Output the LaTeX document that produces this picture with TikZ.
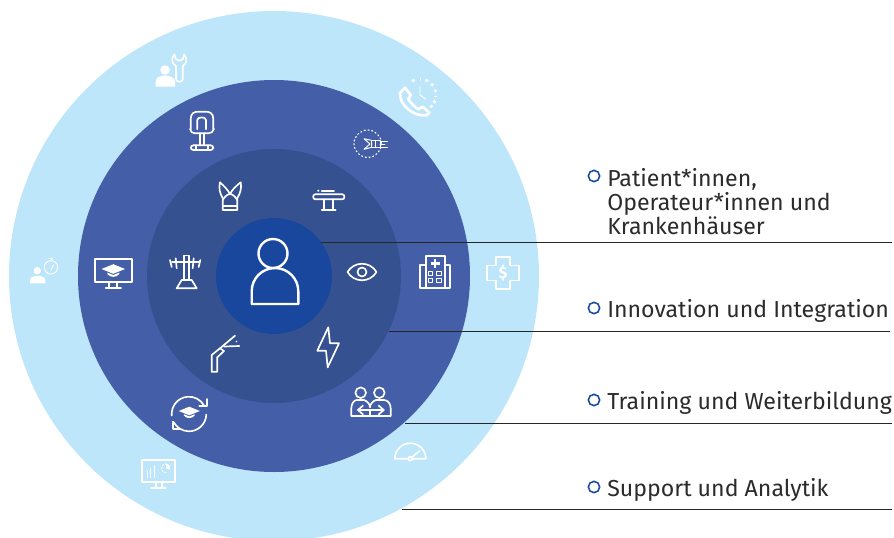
\documentclass[tikz,border=0pt]{standalone}
\usepackage{fontspec}
\setmainfont{Fira Sans}
\usetikzlibrary{positioning, calc}
\usetikzlibrary{arrows.meta}

\definecolor{ringouter}{HTML}{BDE6FA}
\definecolor{ringmiddle}{HTML}{455EA8}
\definecolor{ringinner}{HTML}{355190}
\definecolor{ringcore}{HTML}{19479E}
\definecolor{bulletblue}{HTML}{1E4CA0}
\definecolor{labelgrey}{HTML}{2B2B2B}

\tikzset{
    ring/.style={circle, inner sep=0pt, outer sep=0pt},
    icon/.style={draw=white, line width=1.25pt, line join=round, line cap=round},
    thinicon/.style={draw=white, line width=0.7pt, line join=round, line cap=round},
    bulletmark/.style={circle, draw=bulletblue, line width=1.2pt, inner sep=0pt, minimum size=8.5pt},
    labeltext/.style={anchor=base west, inner sep=0pt, align=left, text=labelgrey, font=\fontsize{17.35}{18}\selectfont},
    leader/.style={draw=black!85, line width=0.8pt},
    gradcap/.pic={
        \fill[white] (-11.7,0) -- (0,-4.8) -- (11.7,0) -- (0,4.8) -- cycle;
        \fill[white] (-6,3.6) -- (0,6) -- (6,3.6) -- (6,5) .. controls (3,8.8) and (-3,8.8) .. (-6,5) -- cycle;
    },
    wrenchperson/.pic={
        \fill[white] (-7,0) circle[radius=4.8];
        \fill[white] (-16.5,16.7) -- (-16.5,12) .. controls (-16.5,7) and (-11,5.5) .. (-7,5.5)
            .. controls (-3,5.5) and (3,7) .. (3,12) -- (3,16.7) -- cycle;
        \draw[icon] (4,9.3) -- (4,-4) .. controls (0,-6) and (-1.5,-11) .. (2.3,-15.7) -- (4,-10.7)
            -- (7.3,-9.3) -- (10.7,-10.7) -- (12,-15.7) .. controls (16,-11) and (14.5,-6) .. (10.7,-4)
            -- (10.7,9.3) .. controls (10.7,12.5) and (4,12.5) .. (4,9.3);
    },
    phoneclock/.pic={
        \foreach \a in {-115,-65,-40,-15,25,45}
            \fill[white] ($(1,-3)+(\a:16)$) circle[radius=1.8];
        \foreach \a in {-90,5}
            \draw[thinicon] ($(1,-3)+(\a:14.5)$) -- ($(1,-3)+(\a:17)$);
        \draw[thinicon] (1,-11.3) -- (1,-3) -- (7,1.3);
        \draw[draw=white, fill=ringouter, line width=2pt, line join=round]
            (-14,-10.3) -- (-8.3,-3) -- (-10.7,1.3) .. controls (-8,5) and (-5,8.5) .. (-0.7,11.3)
            -- (3.7,8.7) -- (10.3,14.7) -- (7.7,17.3) .. controls (-5,19) and (-20,7) .. (-19,-5) -- cycle;
    },
    personwatch/.pic={
        \fill[white] (-6.7,-1.3) circle[radius=3.7];
        \fill[white] (-14,11.3) -- (-14,8) .. controls (-14,5) and (-10,4) .. (-6.7,4)
            .. controls (-3,4) and (1.3,5) .. (1.3,8) -- (1.3,11.3) -- cycle;
        \draw[thinicon] (7,-4.7) circle[radius=6.7];
        \draw[thinicon] (5.3,-13.3) -- (8.7,-13.3) (7,-13.3) -- (7,-11.4);
        \draw[thinicon] (7,-2) -- (9.3,-7);
    },
    plusdollar/.pic={
        \draw[icon] (-7,-16) -- (7,-16) -- (7,-7.5) -- (16.3,-7.5) -- (16.3,7.5) -- (7,7.5) -- (7,16)
            -- (-7,16) -- (-7,7.5) -- (-16.3,7.5) -- (-16.3,-7.5) -- (-7,-7.5) -- cycle;
        \node[text=white, inner sep=0pt, font=\bfseries\fontsize{12}{12}\selectfont] (dollar) at (0,0) {\$};
    },
    gaugedial/.pic={
        \draw[icon] (-15.2,5.7) arc[start angle=180, end angle=360, radius=15.5] -- cycle;
        \draw[icon] (0.3,5.7) -- (9.3,-2);
        \draw[icon, fill=ringouter] (0.3,5.7) circle[radius=2];
    },
    monitorchart/.pic={
        \draw[icon] (-16.3,-14) rectangle (17,8.3);
        \draw[icon] (-2,8.3) -- (-2,13.7) (3.7,8.3) -- (3.7,13.7) (-7,13.7) -- (7.7,13.7);
        \draw[thinicon] (-10.7,3.3) -- (-10.7,-3.3) (-7.3,3.3) -- (-7.3,-5.7) (-4,3.3) -- (-4,-8.3);
        \draw[thinicon, dash pattern=on 1.2pt off 1.2pt] (8,-1.2) arc[start angle=90, end angle=270, radius=4.5];
        \fill[white] (8,-5.7) -- (8,-10.2) arc[start angle=-90, end angle=20, radius=4.5] -- cycle;
    },
    robotcart/.pic={
        \draw[icon] (-12.3,-1.7) -- (-12.3,-12) .. controls (-12.3,-17.5) and (-9,-19.3) .. (-5,-19.3)
            -- (3,-19.3) .. controls (7,-19.3) and (10.3,-17.5) .. (10.3,-12) -- (10.3,-1.7);
        \draw[icon] (-5.7,-1.7) -- (-5.7,-11) .. controls (-5.7,-14.5) and (3,-14.5) .. (3,-11) -- (3,-1.7);
        \draw[icon] (-13,-2) .. controls (-12,1) and (-11,2.3) .. (-8,2.3) -- (5,2.3) .. controls (8,2.3) and (10,1) .. (11,-2);
        \draw[icon] (-3,2.3) -- (-3,14) (1,2.3) -- (1,14);
        \draw[icon, rounded corners=2pt] (-12.3,14.3) rectangle (10.3,19);
        \draw[icon] (-7,14.3) -- (-7,19) (5,14.3) -- (5,19);
    },
    gripperring/.pic={
        \draw[draw=white, line width=0.85pt, dash pattern=on 0.85pt off 2pt, line cap=round] (-3.3,-0.3) circle[radius=13.7];
        \draw[thinicon] (-7,-5.3) -- (0.7,-3.6) -- (0.7,3.3) -- (-7,5.3) -- (-1,0) -- cycle;
        \draw[thinicon] (0.7,-3.3) rectangle (9,3.3) (4.5,-3.3) -- (4.5,3.3);
        \draw[thinicon] (9,-3) -- (16.3,-3) (9,3) -- (16.3,3) (9,0) -- (14,0);
    },
    monitorcap/.pic={
        \draw[icon] (-18,-13) rectangle (18.7,10.3);
        \draw[icon] (-3.7,10.3) -- (-3.7,16.3) (4.3,10.3) -- (4.3,16.3) (-7.3,16.3) -- (8,16.3);
        \pic at (0.3,-3) {gradcap};
    },
    hospitalblock/.pic={
        \draw[icon] (-9.3,16.3) rectangle (10,-16.3);
        \draw[icon] (-9.3,-7) -- (-15,-7) -- (-15,16.3) -- (-9.3,16.3);
        \draw[icon] (10,-7) -- (15.3,-7) -- (15.3,16.3) -- (10,16.3);
        \draw[draw=white, line width=2.2pt] (-4.5,-8.7) -- (4.5,-8.7) (0,-13.2) -- (0,-4.2);
        \foreach \wx in {-4.3,4}
            \foreach \wy in {1.3,8.7}
                \draw[thinicon] (\wx-2.2,\wy-2.2) rectangle (\wx+2.2,\wy+2.2);
    },
    capcycle/.pic={
        \draw[icon] (175:17.3) arc[start angle=175, end angle=332, radius=17.3];
        \draw[icon] (10.3,-8) -- (17.7,-8) -- (17.7,-15);
        \draw[icon] (2:17.3) arc[start angle=2, end angle=152, radius=17.3];
        \draw[icon] (-15.7,7.7) -- (-15.7,15) -- (-8.3,15);
        \pic[scale=0.9] at (0.3,-3) {gradcap};
    },
    twopeople/.pic={
        \draw[icon] (-10.3,-11.3) circle[radius=5.3];
        \draw[icon] (8.3,-11.3) circle[radius=5.3];
        \draw[icon] (-19.7,12) -- (-19.7,4.3) .. controls (-19.7,0) and (-17,-4) .. (-14.3,-4)
            -- (-7,-4) .. controls (-4,-3) and (-1,0) .. (-1,3.3)
            .. controls (-1,0) and (2,-3) .. (5,-4) -- (13,-4)
            .. controls (17,-4) and (19.7,0) .. (19.7,4.3) -- (19.7,12) -- cycle;
        \draw[icon, {Straight Barb[length=4pt,width=7pt]}-{Straight Barb[length=4pt,width=7pt]}] (-14.3,6) -- (14,6);
        \draw[icon] (-1,6) -- (-1,12);
    },
    vestshape/.pic={
        \draw[icon] (-8,-13.7) .. controls (-4,-10) and (0,-6) .. (2,-2) .. controls (4,-6) and (8,-10) .. (12.7,-13.7)
            .. controls (14,-8) and (12,-2) .. (9.3,2) -- (9.3,14) -- (-5.3,14) -- (-5.3,2)
            .. controls (-8,-2) and (-9.5,-8) .. (-8,-13.7);
        \draw[icon] (-5.3,4) .. controls (-3,0) and (0,-2) .. (2,-2) .. controls (4,-2) and (7,0) .. (9.3,4);
        \draw[icon] (-5.3,9.7) -- (9.3,9.7);
    },
    tablebed/.pic={
        \draw[icon, rounded corners=1.5pt] (-15.7,-5.7) rectangle (15.3,-0.7);
        \draw[icon] (-5,-0.7) -- (-5,10) (4.3,-0.7) -- (4.3,10) (-7.3,10) -- (6.7,10);
        \draw[icon] (-7.3,-9) -- (5,-9);
        \fill[white] (-10.7,-9.3) circle[radius=1.2];
    },
    antennatower/.pic={
        \draw[icon] (-7.3,16.3) -- (12.7,16.3) -- (7.7,8) -- (-2.3,8) -- cycle;
        \draw[icon] (0,8) -- (0,-16.5) -- (5.3,-16.5) -- (5.3,8);
        \draw[icon] (-12,-10.3) -- (15,-10.3);
        \draw[icon] (-14,-12) .. controls (-14,-9) .. (-12.3,-5);
        \draw[icon] (-8.3,-13.7) .. controls (-8.6,-9) .. (-7.3,-3.7);
        \draw[icon] (16.3,-12) .. controls (16.3,-9) .. (14.7,-5);
        \draw[icon] (9.7,-13.7) .. controls (10,-9) .. (8.7,-3.7);
    },
    eyeshape/.pic={
        \draw[icon] (-14.5,0) .. controls (-8,-11) and (8,-11) .. (14.5,0) .. controls (8,11) and (-8,11) .. cycle;
        \draw[icon] (0,0) circle[radius=4.5];
    },
    scopearm/.pic={
        \draw[icon] (-13.3,21.7) -- (-13.3,5) -- (-5,-1.7) -- (10,-14.3);
        \draw[icon] (-13.3,21.7) -- (-7.7,21.7) -- (-7.7,7.3) -- (-1,1) -- (-5,-1.7);
        \draw[icon] (-1,-3.5) -- (14.3,-4);
        \fill[white] (11.5,-8.5) circle[radius=0.8];
    },
    boltshape/.pic={
        \draw[icon] (0.3,-19.7) -- (-10.7,3.7) -- (-2,3.7) -- (-0.3,20.3) -- (11,-3.7) -- (2,-3.7) -- cycle;
    },
    centreperson/.pic={
        \draw[draw=white, line width=1.8pt] (-1,-18.5) circle[radius=14.5];
        \draw[draw=white, line width=1.8pt, line join=round] (-22.3,32) -- (-22.3,19.3)
            arc[start angle=180, end angle=360, radius=23.3] -- (24.3,32) -- cycle;
    },
}

\begin{document}
\begin{tikzpicture}[x=0.75pt, y=-0.75pt]
    \path[use as bounding box, clip] (0,0) rectangle (894,537);

    \node[ring, fill=ringouter, minimum size=397.5pt] (outer) at (274,276) {};
    \node[ring, fill=ringmiddle, minimum size=294pt] (middle) at (274,276) {};
    \node[ring, fill=ringinner, minimum size=190.5pt] (inner) at (274,276) {};
    \node[ring, fill=ringcore, minimum size=87pt] (core) at (274,276) {};

    \pic at (172,70) {wrenchperson};
    \pic at (419,98) {phoneclock};
    \pic at (44,272) {personwatch};
    \pic at (503,273) {plusdollar};
    \pic at (410,453) {gaugedial};
    \pic at (158,474) {monitorchart};

    \pic at (203,131) {robotcart};
    \pic at (371,144) {gripperring};
    \pic at (113,272) {monitorcap};
    \pic at (435,272) {hospitalblock};
    \pic at (189,414) {capcycle};
    \pic at (371,404) {twopeople};

    \pic at (228,196) {vestshape};
    \pic at (329,200) {tablebed};
    \pic at (184,272) {antennatower};
    \pic at (362,272) {eyeshape};
    \pic at (225,350) {scopearm};
    \pic at (328,347) {boltshape};

    \pic at (274,272) {centreperson};

    \node[bulletmark] (B1) at (594,176) {};
    \node[bulletmark] (B2) at (594,308) {};
    \node[bulletmark] (B3) at (594,400) {};
    \node[bulletmark] (B4) at (594,487) {};

    \node[labeltext] (T1) at (607,234) {Patient*innen,\\Operateur*innen und\\Krankenhäuser};
    \node[labeltext] (T2) at (607,317) {Innovation und Integration};
    \node[labeltext] (T3) at (607,409) {Training und Weiterbildung};
    \node[labeltext] (T4) at (607,496) {Support und Analytik};

    \coordinate (E1) at (892,242.5);
    \coordinate (E2) at (890,331.5);
    \coordinate (E3) at (892,423.5);
    \coordinate (E4) at (892,509.5);

    \draw[leader]
        (E1 -| core.36.5) -- (E1)
        (E2 -| inner.-25.8) -- (E2)
        (E3 -| middle.-48.7) -- (E3)
        (E4 -| outer.-61.8) -- (E4);
\end{tikzpicture}
\end{document}
